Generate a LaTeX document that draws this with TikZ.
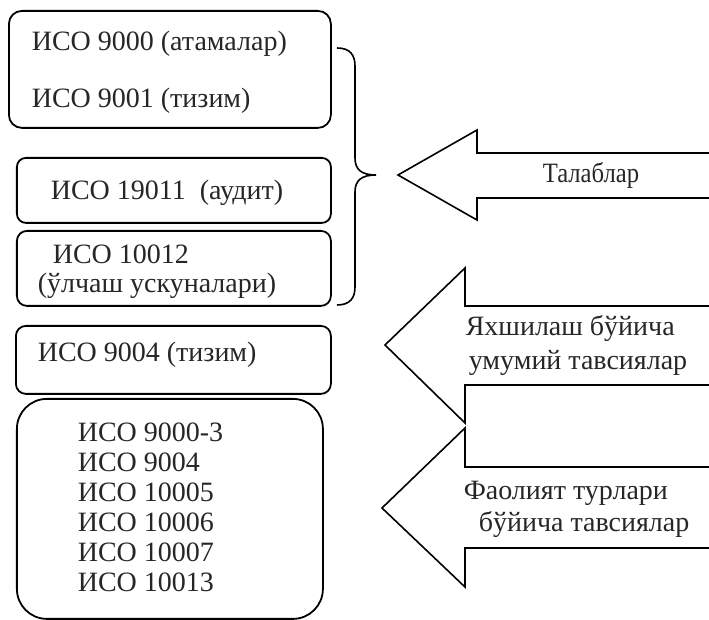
\documentclass[tikz,border=0pt]{standalone}
\usepackage{fontspec}
\setmainfont{Liberation Serif}
\newfontfamily\narrowfont{Liberation Serif}[FakeStretch=0.88]

\begin{document}
\begin{tikzpicture}[x=0.5pt, y=-0.5pt, line width=0.8pt,
    box/.style={draw, line width=0.9pt, inner sep=0pt, anchor=north west, rounded corners=6.5pt},
    txt/.style={anchor=base west, inner sep=0pt, text=black!85, font=\fontsize{14}{15}\selectfont}]
    \useasboundingbox (0,0) rectangle (709,620);

    % chap tomondagi standartlar
    \node[box, minimum width=161pt, minimum height=58.5pt] (iso1) at (8,10) {};
    \node[txt] (t9000) at (31,51) {ИСО 9000 (атамалар)};
    \node[txt] (t9001) at (31,108) {ИСО 9001 (тизим)};

    \node[box, minimum width=157pt, minimum height=32.5pt, rounded corners=4.5pt] (iso2) at (16,157) {};
    \node[txt] (t19011) at (50,200) {ИСО 19011 \ (аудит)};

    \node[box, minimum width=157pt, minimum height=37.5pt, rounded corners=5pt] (iso3) at (16,230) {};
    \node[txt] (t10012) at (52,264) {ИСО 10012};
    \node[txt] (tolchash) at (37,293) {(ўлчаш ускуналари)};

    \node[box, minimum width=157.5pt, minimum height=34pt, rounded corners=5pt] (iso4) at (15,325) {};
    \node[txt] (t9004) at (37,362) {ИСО 9004 (тизим)};

    \node[box, minimum width=153pt, minimum height=110pt, rounded corners=15pt] (iso5) at (16,398) {};
    \foreach \n [count=\i] in {9000-3,9004,10005,10006,10007,10013}
        \node[txt] (s\i) at (77,{442+30*(\i-1)}) {ИСО \n};

    % qavs
    \draw (337,48) .. controls (350,48) and (355,55) .. (355,66) -- (355,158)
        .. controls (355,170) and (362,175) .. (376,175)
        .. controls (362,175) and (355,180) .. (355,192) -- (355,287)
        .. controls (355,298) and (350,305) .. (337,305);

    % o'qlar
    \draw[line join=miter] (712,153) -- (477,153) -- (477,130) -- (398,175) -- (477,220) -- (477,198) -- (712,198);
    \node[txt, font=\narrowfont\fontsize{14}{15}\selectfont] (talab) at (542,183) {Талаблар};

    \draw[line join=miter] (712,306) -- (465,306) -- (465,268) -- (385,345) -- (465,423) -- (465,385) -- (712,385);
    \node[txt] (yaxshi1) at (465,336) {Яхшилаш бўйича};
    \node[txt] (yaxshi2) at (468,370) {умумий тавсиялар};

    \draw[line join=miter] (712,467) -- (465,467) -- (465,428) -- (382,508) -- (465,587) -- (465,548) -- (712,548);
    \node[txt] (faol1) at (463,500) {Фаолият турлари};
    \node[txt] (faol2) at (478,532) {бўйича тавсиялар};
\end{tikzpicture}
\end{document}
